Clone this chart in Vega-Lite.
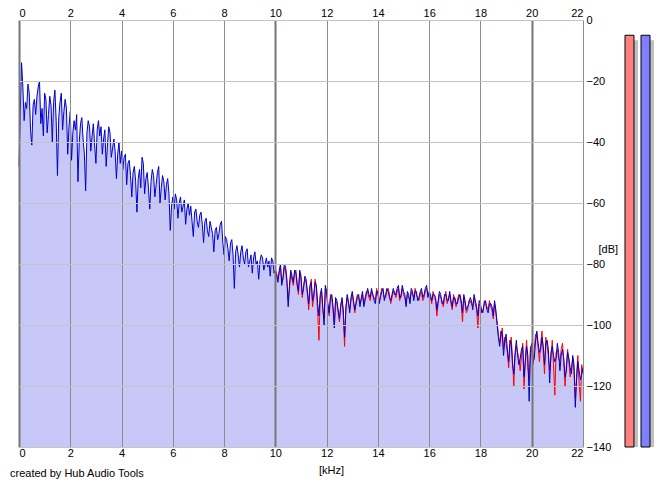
{
  "$schema": "https://vega.github.io/schema/vega-lite/v6.json",
  "background": "white",
  "padding": {"left": 10, "top": 7, "right": 10, "bottom": 8},
  "title": {
    "text": "created by Hub Audio Tools",
    "orient": "bottom",
    "anchor": "start",
    "frame": "group",
    "dx": -9,
    "offset": -7,
    "font": "Liberation Sans",
    "fontSize": 11,
    "fontWeight": "normal",
    "color": "black"
  },
  "config": {
    "view": {"stroke": null},
    "axis": {
      "labelFont": "Liberation Sans",
      "labelFontSize": 11,
      "labelColor": "black",
      "titleFont": "Liberation Sans",
      "titleFontSize": 11,
      "titleFontWeight": "normal",
      "titleColor": "black",
      "ticks": false,
      "domain": false
    }
  },
  "bounds": "flush",
  "spacing": 42,
  "resolve": {"scale": {"x": "independent", "y": "independent", "color": "independent"}},
  "hconcat": [
    {
      "width": 564,
      "height": 427,
      "data": {
        "values": [
          {"f": 0.0, "R": -48}, {"f": 0.05, "R": -30}, {"f": 0.1, "R": -14}, {"f": 0.15, "R": -22}, {"f": 0.2, "R": -33},
          {"f": 0.25, "R": -27}, {"f": 0.3, "R": -29}, {"f": 0.35, "R": -21}, {"f": 0.4, "R": -24}, {"f": 0.45, "R": -36},
          {"f": 0.5, "R": -41}, {"f": 0.55, "R": -28}, {"f": 0.6, "R": -26}, {"f": 0.65, "R": -31}, {"f": 0.7, "R": -25},
          {"f": 0.75, "R": -22}, {"f": 0.8, "R": -20}, {"f": 0.85, "R": -34}, {"f": 0.9, "R": -29}, {"f": 0.95, "R": -38},
          {"f": 1.0, "R": -24}, {"f": 1.05, "R": -26}, {"f": 1.1, "R": -37}, {"f": 1.15, "R": -31}, {"f": 1.2, "R": -25},
          {"f": 1.25, "R": -28}, {"f": 1.3, "R": -40}, {"f": 1.35, "R": -27}, {"f": 1.4, "R": -23}, {"f": 1.45, "R": -33},
          {"f": 1.5, "R": -51}, {"f": 1.55, "R": -32}, {"f": 1.6, "R": -27}, {"f": 1.65, "R": -24}, {"f": 1.7, "R": -36},
          {"f": 1.75, "R": -30}, {"f": 1.8, "R": -26}, {"f": 1.85, "R": -29}, {"f": 1.9, "R": -44}, {"f": 1.95, "R": -35},
          {"f": 2.0, "R": -30}, {"f": 2.05, "R": -46}, {"f": 2.1, "R": -37}, {"f": 2.15, "R": -33}, {"f": 2.2, "R": -36},
          {"f": 2.25, "R": -31}, {"f": 2.3, "R": -53}, {"f": 2.35, "R": -40}, {"f": 2.4, "R": -34}, {"f": 2.45, "R": -32},
          {"f": 2.5, "R": -39}, {"f": 2.55, "R": -44}, {"f": 2.6, "R": -56}, {"f": 2.65, "R": -37}, {"f": 2.7, "R": -33},
          {"f": 2.75, "R": -35}, {"f": 2.8, "R": -43}, {"f": 2.85, "R": -38}, {"f": 2.9, "R": -34}, {"f": 2.95, "R": -41},
          {"f": 3.0, "R": -47}, {"f": 3.05, "R": -36}, {"f": 3.1, "R": -33}, {"f": 3.15, "R": -38}, {"f": 3.2, "R": -35},
          {"f": 3.25, "R": -44}, {"f": 3.3, "R": -39}, {"f": 3.35, "R": -36}, {"f": 3.4, "R": -48}, {"f": 3.45, "R": -41},
          {"f": 3.5, "R": -35}, {"f": 3.55, "R": -37}, {"f": 3.6, "R": -45}, {"f": 3.65, "R": -42}, {"f": 3.7, "R": -39},
          {"f": 3.75, "R": -43}, {"f": 3.8, "R": -52}, {"f": 3.85, "R": -44}, {"f": 3.9, "R": -40}, {"f": 3.95, "R": -47},
          {"f": 4.0, "R": -43}, {"f": 4.05, "R": -49}, {"f": 4.1, "R": -45}, {"f": 4.15, "R": -44}, {"f": 4.2, "R": -54},
          {"f": 4.25, "R": -47}, {"f": 4.3, "R": -46}, {"f": 4.35, "R": -51}, {"f": 4.4, "R": -58}, {"f": 4.45, "R": -50},
          {"f": 4.5, "R": -48}, {"f": 4.55, "R": -53}, {"f": 4.6, "R": -63}, {"f": 4.65, "R": -52}, {"f": 4.7, "R": -49},
          {"f": 4.75, "R": -55}, {"f": 4.8, "R": -45}, {"f": 4.85, "R": -47}, {"f": 4.9, "R": -57}, {"f": 4.95, "R": -52},
          {"f": 5.0, "R": -50}, {"f": 5.05, "R": -55}, {"f": 5.1, "R": -62}, {"f": 5.15, "R": -53}, {"f": 5.2, "R": -49},
          {"f": 5.25, "R": -51}, {"f": 5.3, "R": -58}, {"f": 5.35, "R": -54}, {"f": 5.4, "R": -50}, {"f": 5.45, "R": -48},
          {"f": 5.5, "R": -60}, {"f": 5.55, "R": -55}, {"f": 5.6, "R": -51}, {"f": 5.65, "R": -53}, {"f": 5.7, "R": -59},
          {"f": 5.75, "R": -54}, {"f": 5.8, "R": -52}, {"f": 5.85, "R": -57}, {"f": 5.9, "R": -69}, {"f": 5.95, "R": -61},
          {"f": 6.0, "R": -58}, {"f": 6.05, "R": -62}, {"f": 6.1, "R": -57}, {"f": 6.15, "R": -59}, {"f": 6.2, "R": -65},
          {"f": 6.25, "R": -60}, {"f": 6.3, "R": -58}, {"f": 6.35, "R": -63}, {"f": 6.4, "R": -61}, {"f": 6.45, "R": -59},
          {"f": 6.5, "R": -67}, {"f": 6.55, "R": -62}, {"f": 6.6, "R": -60}, {"f": 6.65, "R": -64}, {"f": 6.7, "R": -61},
          {"f": 6.75, "R": -66}, {"f": 6.8, "R": -71}, {"f": 6.85, "R": -63}, {"f": 6.9, "R": -62}, {"f": 6.95, "R": -66},
          {"f": 7.0, "R": -68}, {"f": 7.05, "R": -64}, {"f": 7.1, "R": -63}, {"f": 7.15, "R": -67}, {"f": 7.2, "R": -73},
          {"f": 7.25, "R": -66}, {"f": 7.3, "R": -65}, {"f": 7.35, "R": -69}, {"f": 7.4, "R": -71}, {"f": 7.45, "R": -66},
          {"f": 7.5, "R": -68}, {"f": 7.55, "R": -70}, {"f": 7.6, "R": -76}, {"f": 7.65, "R": -69}, {"f": 7.7, "R": -68},
          {"f": 7.75, "R": -72}, {"f": 7.8, "R": -70}, {"f": 7.85, "R": -67}, {"f": 7.9, "R": -66}, {"f": 7.95, "R": -73},
          {"f": 8.0, "R": -77}, {"f": 8.05, "R": -71}, {"f": 8.1, "R": -72}, {"f": 8.15, "R": -75}, {"f": 8.2, "R": -79},
          {"f": 8.25, "R": -73}, {"f": 8.3, "R": -72}, {"f": 8.35, "R": -77}, {"f": 8.4, "R": -88}, {"f": 8.45, "R": -76},
          {"f": 8.5, "R": -74}, {"f": 8.55, "R": -77}, {"f": 8.6, "R": -81}, {"f": 8.65, "R": -76}, {"f": 8.7, "R": -74},
          {"f": 8.75, "R": -78}, {"f": 8.8, "R": -80}, {"f": 8.85, "R": -76}, {"f": 8.9, "R": -75}, {"f": 8.95, "R": -81},
          {"f": 9.0, "R": -79}, {"f": 9.05, "R": -77}, {"f": 9.1, "R": -83}, {"f": 9.15, "R": -78}, {"f": 9.2, "R": -76},
          {"f": 9.25, "R": -80}, {"f": 9.3, "R": -79}, {"f": 9.35, "R": -85}, {"f": 9.4, "R": -79}, {"f": 9.45, "R": -77},
          {"f": 9.5, "R": -78}, {"f": 9.55, "R": -82}, {"f": 9.6, "R": -80}, {"f": 9.65, "R": -78}, {"f": 9.7, "R": -81},
          {"f": 9.75, "R": -79}, {"f": 9.8, "R": -84}, {"f": 9.85, "R": -78}, {"f": 9.9, "R": -79}, {"f": 9.95, "R": -83},
          {"f": 10.0, "L": -82, "R": -82}, {"f": 10.05, "L": -83, "R": -84}, {"f": 10.1, "L": -85, "R": -86},
          {"f": 10.15, "L": -83, "R": -82}, {"f": 10.2, "L": -81, "R": -80}, {"f": 10.25, "L": -86, "R": -87},
          {"f": 10.3, "L": -85, "R": -84}, {"f": 10.35, "L": -81, "R": -80}, {"f": 10.4, "L": -82, "R": -81},
          {"f": 10.45, "L": -86, "R": -85}, {"f": 10.5, "L": -92, "R": -94}, {"f": 10.55, "L": -88, "R": -87},
          {"f": 10.6, "L": -83, "R": -82}, {"f": 10.65, "L": -85, "R": -84}, {"f": 10.7, "L": -87, "R": -86},
          {"f": 10.75, "L": -83, "R": -82}, {"f": 10.8, "L": -82, "R": -83}, {"f": 10.85, "L": -86, "R": -87},
          {"f": 10.9, "L": -90, "R": -89}, {"f": 10.95, "L": -83, "R": -82}, {"f": 11.0, "L": -85, "R": -84},
          {"f": 11.05, "L": -91, "R": -90}, {"f": 11.1, "L": -87, "R": -88}, {"f": 11.15, "L": -85, "R": -84},
          {"f": 11.2, "L": -86, "R": -85}, {"f": 11.25, "L": -90, "R": -89}, {"f": 11.3, "L": -95, "R": -93},
          {"f": 11.35, "L": -88, "R": -87}, {"f": 11.4, "L": -85, "R": -86}, {"f": 11.45, "L": -94, "R": -92},
          {"f": 11.5, "L": -91, "R": -90}, {"f": 11.55, "L": -85, "R": -86}, {"f": 11.6, "L": -88, "R": -87},
          {"f": 11.65, "L": -96, "R": -93}, {"f": 11.7, "L": -105, "R": -97}, {"f": 11.75, "L": -91, "R": -90},
          {"f": 11.8, "L": -89, "R": -88}, {"f": 11.85, "L": -95, "R": -94}, {"f": 11.9, "L": -98, "R": -100},
          {"f": 11.95, "L": -88, "R": -87}, {"f": 12.0, "L": -90, "R": -89}, {"f": 12.05, "L": -94, "R": -93},
          {"f": 12.1, "L": -97, "R": -96}, {"f": 12.15, "L": -90, "R": -91}, {"f": 12.2, "L": -91, "R": -90},
          {"f": 12.25, "L": -95, "R": -94}, {"f": 12.3, "L": -100, "R": -101}, {"f": 12.35, "L": -92, "R": -91},
          {"f": 12.4, "L": -93, "R": -92}, {"f": 12.45, "L": -96, "R": -95}, {"f": 12.5, "L": -99, "R": -98},
          {"f": 12.55, "L": -93, "R": -94}, {"f": 12.6, "L": -92, "R": -91}, {"f": 12.65, "L": -97, "R": -95},
          {"f": 12.7, "L": -107, "R": -104}, {"f": 12.75, "L": -94, "R": -95}, {"f": 12.8, "L": -91, "R": -90},
          {"f": 12.85, "L": -93, "R": -92}, {"f": 12.9, "L": -95, "R": -96}, {"f": 12.95, "L": -92, "R": -91},
          {"f": 13.0, "L": -90, "R": -89}, {"f": 13.05, "L": -93, "R": -92}, {"f": 13.1, "L": -96, "R": -95},
          {"f": 13.15, "L": -92, "R": -93}, {"f": 13.2, "L": -90, "R": -91}, {"f": 13.25, "L": -91, "R": -90},
          {"f": 13.3, "L": -93, "R": -94}, {"f": 13.35, "L": -92, "R": -91}, {"f": 13.4, "L": -90, "R": -89},
          {"f": 13.45, "L": -93, "R": -94}, {"f": 13.5, "L": -91, "R": -92}, {"f": 13.55, "L": -89, "R": -90},
          {"f": 13.6, "L": -89, "R": -88}, {"f": 13.65, "L": -91, "R": -90}, {"f": 13.7, "L": -92, "R": -91},
          {"f": 13.75, "L": -89, "R": -88}, {"f": 13.8, "L": -90, "R": -90}, {"f": 13.85, "L": -91, "R": -92},
          {"f": 13.9, "L": -92, "R": -93}, {"f": 13.95, "L": -88, "R": -89}, {"f": 14.0, "L": -90, "R": -89},
          {"f": 14.05, "L": -92, "R": -93}, {"f": 14.1, "L": -90, "R": -91}, {"f": 14.15, "L": -88, "R": -89},
          {"f": 14.2, "L": -89, "R": -88}, {"f": 14.25, "L": -91, "R": -92}, {"f": 14.3, "L": -91, "R": -90},
          {"f": 14.35, "L": -89, "R": -88}, {"f": 14.4, "L": -88, "R": -89}, {"f": 14.45, "L": -90, "R": -91},
          {"f": 14.5, "L": -93, "R": -92}, {"f": 14.55, "L": -91, "R": -90}, {"f": 14.6, "L": -89, "R": -88},
          {"f": 14.65, "L": -89, "R": -90}, {"f": 14.7, "L": -91, "R": -90}, {"f": 14.75, "L": -89, "R": -88},
          {"f": 14.8, "L": -88, "R": -87}, {"f": 14.85, "L": -92, "R": -91}, {"f": 14.9, "L": -90, "R": -91},
          {"f": 14.95, "L": -88, "R": -87}, {"f": 15.0, "L": -90, "R": -89}, {"f": 15.05, "L": -91, "R": -90},
          {"f": 15.1, "L": -93, "R": -94}, {"f": 15.15, "L": -90, "R": -89}, {"f": 15.2, "L": -91, "R": -90},
          {"f": 15.25, "L": -92, "R": -93}, {"f": 15.3, "L": -89, "R": -88}, {"f": 15.35, "L": -90, "R": -89},
          {"f": 15.4, "L": -91, "R": -92}, {"f": 15.45, "L": -88, "R": -89}, {"f": 15.5, "L": -90, "R": -89},
          {"f": 15.55, "L": -91, "R": -92}, {"f": 15.6, "L": -92, "R": -91}, {"f": 15.65, "L": -90, "R": -89},
          {"f": 15.7, "L": -89, "R": -88}, {"f": 15.75, "L": -92, "R": -91}, {"f": 15.8, "L": -91, "R": -90},
          {"f": 15.85, "L": -89, "R": -88}, {"f": 15.9, "L": -88, "R": -87}, {"f": 15.95, "L": -90, "R": -91},
          {"f": 16.0, "L": -90, "R": -89}, {"f": 16.05, "L": -91, "R": -90}, {"f": 16.1, "L": -93, "R": -92},
          {"f": 16.15, "L": -89, "R": -90}, {"f": 16.2, "L": -91, "R": -90}, {"f": 16.25, "L": -92, "R": -91},
          {"f": 16.3, "L": -97, "R": -95}, {"f": 16.35, "L": -93, "R": -92}, {"f": 16.4, "L": -90, "R": -89},
          {"f": 16.45, "L": -91, "R": -90}, {"f": 16.5, "L": -92, "R": -93}, {"f": 16.55, "L": -94, "R": -93},
          {"f": 16.6, "L": -91, "R": -90}, {"f": 16.65, "L": -89, "R": -90}, {"f": 16.7, "L": -93, "R": -92},
          {"f": 16.75, "L": -91, "R": -92}, {"f": 16.8, "L": -90, "R": -89}, {"f": 16.85, "L": -93, "R": -92},
          {"f": 16.9, "L": -95, "R": -94}, {"f": 16.95, "L": -90, "R": -91}, {"f": 17.0, "L": -92, "R": -91},
          {"f": 17.05, "L": -94, "R": -93}, {"f": 17.1, "L": -92, "R": -93}, {"f": 17.15, "L": -90, "R": -91},
          {"f": 17.2, "L": -91, "R": -90}, {"f": 17.25, "L": -93, "R": -92}, {"f": 17.3, "L": -99, "R": -96},
          {"f": 17.35, "L": -91, "R": -90}, {"f": 17.4, "L": -93, "R": -92}, {"f": 17.45, "L": -96, "R": -95},
          {"f": 17.5, "L": -95, "R": -94}, {"f": 17.55, "L": -92, "R": -93}, {"f": 17.6, "L": -92, "R": -91},
          {"f": 17.65, "L": -93, "R": -92}, {"f": 17.7, "L": -94, "R": -95}, {"f": 17.75, "L": -91, "R": -90},
          {"f": 17.8, "L": -93, "R": -92}, {"f": 17.85, "L": -95, "R": -94}, {"f": 17.9, "L": -101, "R": -97},
          {"f": 17.95, "L": -93, "R": -92}, {"f": 18.0, "L": -94, "R": -93}, {"f": 18.05, "L": -95, "R": -96},
          {"f": 18.1, "L": -96, "R": -95}, {"f": 18.15, "L": -92, "R": -93}, {"f": 18.2, "L": -93, "R": -92},
          {"f": 18.25, "L": -94, "R": -95}, {"f": 18.3, "L": -95, "R": -96}, {"f": 18.35, "L": -92, "R": -93},
          {"f": 18.4, "L": -94, "R": -93}, {"f": 18.45, "L": -95, "R": -94}, {"f": 18.5, "L": -98, "R": -97},
          {"f": 18.55, "L": -93, "R": -92}, {"f": 18.6, "L": -96, "R": -95}, {"f": 18.65, "L": -99, "R": -100},
          {"f": 18.7, "L": -103, "R": -104}, {"f": 18.75, "L": -106, "R": -107}, {"f": 18.8, "L": -104, "R": -102},
          {"f": 18.85, "L": -101, "R": -103}, {"f": 18.9, "L": -108, "R": -110}, {"f": 18.95, "L": -104, "R": -105},
          {"f": 19.0, "L": -106, "R": -103}, {"f": 19.05, "L": -109, "R": -108}, {"f": 19.1, "L": -114, "R": -112},
          {"f": 19.15, "L": -107, "R": -105}, {"f": 19.2, "L": -104, "R": -106}, {"f": 19.25, "L": -111, "R": -113},
          {"f": 19.3, "L": -120, "R": -116}, {"f": 19.35, "L": -110, "R": -109}, {"f": 19.4, "L": -107, "R": -105},
          {"f": 19.45, "L": -109, "R": -110}, {"f": 19.5, "L": -111, "R": -113}, {"f": 19.55, "L": -115, "R": -111},
          {"f": 19.6, "L": -110, "R": -108}, {"f": 19.65, "L": -106, "R": -107}, {"f": 19.7, "L": -121, "R": -117},
          {"f": 19.75, "L": -111, "R": -112}, {"f": 19.8, "L": -105, "R": -107}, {"f": 19.85, "L": -114, "R": -110},
          {"f": 19.9, "L": -118, "R": -125}, {"f": 19.95, "L": -107, "R": -109}, {"f": 20.0, "L": -109, "R": -106},
          {"f": 20.05, "L": -113, "R": -112}, {"f": 20.1, "L": -108, "R": -111}, {"f": 20.15, "L": -103, "R": -105},
          {"f": 20.2, "L": -104, "R": -102}, {"f": 20.25, "L": -107, "R": -106}, {"f": 20.3, "L": -112, "R": -109},
          {"f": 20.35, "L": -106, "R": -108}, {"f": 20.4, "L": -102, "R": -104}, {"f": 20.45, "L": -109, "R": -107},
          {"f": 20.5, "L": -116, "R": -113}, {"f": 20.55, "L": -104, "R": -106}, {"f": 20.6, "L": -107, "R": -105},
          {"f": 20.65, "L": -110, "R": -108}, {"f": 20.7, "L": -115, "R": -119}, {"f": 20.75, "L": -111, "R": -109},
          {"f": 20.8, "L": -105, "R": -107}, {"f": 20.85, "L": -113, "R": -110}, {"f": 20.9, "L": -123, "R": -112},
          {"f": 20.95, "L": -109, "R": -111}, {"f": 21.0, "L": -108, "R": -106}, {"f": 21.05, "L": -111, "R": -109},
          {"f": 21.1, "L": -112, "R": -115}, {"f": 21.15, "L": -108, "R": -110}, {"f": 21.2, "L": -106, "R": -108},
          {"f": 21.25, "L": -112, "R": -111}, {"f": 21.3, "L": -120, "R": -117}, {"f": 21.35, "L": -113, "R": -115},
          {"f": 21.4, "L": -108, "R": -109}, {"f": 21.45, "L": -112, "R": -111}, {"f": 21.5, "L": -117, "R": -114},
          {"f": 21.55, "L": -114, "R": -116}, {"f": 21.6, "L": -111, "R": -110}, {"f": 21.65, "L": -115, "R": -113},
          {"f": 21.7, "L": -124, "R": -127}, {"f": 21.75, "L": -116, "R": -118}, {"f": 21.8, "L": -110, "R": -112},
          {"f": 21.85, "L": -119, "R": -115}, {"f": 21.9, "L": -125, "R": -118}, {"f": 21.95, "L": -113, "R": -116},
          {"f": 22.0, "L": -116, "R": -114}
        ]
      },
      "layer": [
        {
          "mark": {"type": "area", "color": "#c8c8f8"},
          "encoding": {
            "x": {
              "field": "f",
              "type": "quantitative",
              "scale": {"domain": [0, 22], "nice": false, "zero": false},
              "axis": {
                "orient": "bottom",
                "values": [0, 2, 4, 6, 8, 10, 12, 14, 16, 18, 20, 22],
                "grid": true,
                "gridColor": {"condition": {"test": "datum.value % 10 === 0", "value": "#777777"}, "value": "#8c8c8c"},
                "gridWidth": {"condition": {"test": "datum.value % 10 === 0", "value": 2}, "value": 1},
                "labelPadding": 0,
                "title": "[kHz]",
                "titleX": 312,
                "titleY": 23,
                "titleBaseline": "middle",
                "zindex": 1
              }
            },
            "y": {
              "field": "R",
              "type": "quantitative",
              "scale": {"domain": [-140, 0], "nice": false},
              "axis": {
                "orient": "right",
                "values": [0, -20, -40, -60, -80, -100, -120, -140],
                "grid": true,
                "gridColor": "#c4c4c4",
                "labelPadding": 3,
                "title": "[dB]",
                "titleAngle": 0,
                "titleX": 15,
                "titleY": 229,
                "titleAlign": "left",
                "titleBaseline": "middle",
                "zindex": 1
              }
            },
            "y2": {"datum": -140}
          }
        },
        {
          "mark": {"type": "line", "color": "#ff0000", "strokeWidth": 1},
          "encoding": {
            "x": {
              "field": "f",
              "type": "quantitative",
              "axis": {
                "orient": "top",
                "values": [0, 2, 4, 6, 8, 10, 12, 14, 16, 18, 20, 22],
                "grid": false,
                "labelPadding": 2,
                "title": null
              }
            },
            "y": {"field": "L", "type": "quantitative"}
          }
        },
        {
          "mark": {"type": "line", "color": "#0000cc", "strokeWidth": 1},
          "encoding": {
            "x": {"field": "f", "type": "quantitative", "axis": null},
            "y": {"field": "R", "type": "quantitative"}
          }
        }
      ],
      "resolve": {"axis": {"x": "independent"}}
    },
    {
      "width": 25,
      "height": 427,
      "data": {"values": [{"ch": "L", "level": -5}, {"ch": "R", "level": -5}]},
      "layer": [
        {
          "mark": {"type": "bar", "color": "#c0c0c0", "xOffset": 4, "yOffset": 5},
          "encoding": {
            "x": {"field": "ch", "type": "nominal", "scale": {"paddingInner": 0.44, "paddingOuter": 0}, "axis": null},
            "y": {"field": "level", "type": "quantitative", "scale": {"domain": [-140, 0], "nice": false}, "axis": null},
            "y2": {"datum": -140}
          }
        },
        {
          "mark": {"type": "bar", "stroke": "black", "strokeWidth": 1},
          "encoding": {
            "x": {"field": "ch", "type": "nominal"},
            "y": {"field": "level", "type": "quantitative"},
            "y2": {"datum": -140},
            "color": {"field": "ch", "type": "nominal", "scale": {"domain": ["L", "R"], "range": ["#ff8080", "#8080ff"]}, "legend": null}
          }
        }
      ]
    }
  ]
}
